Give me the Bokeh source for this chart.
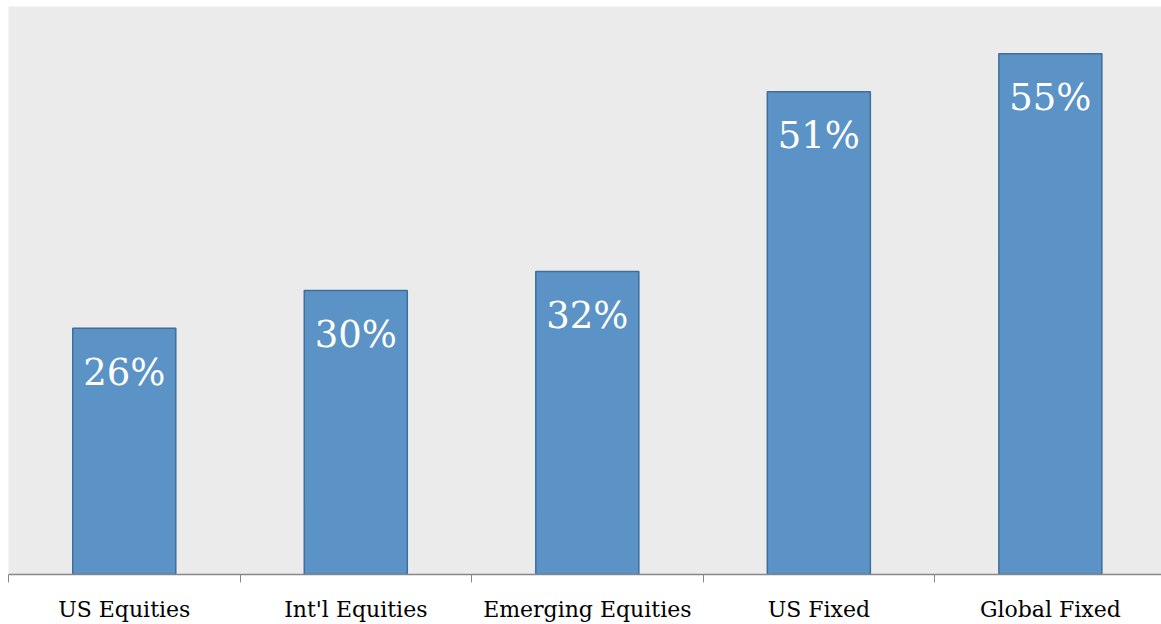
from bokeh.plotting import figure
from bokeh.models import Range1d, FixedTicker, ColumnDataSource
from bokeh.core.properties import value
from bokeh.embed import file_html
from bokeh.resources import INLINE

categories = ["US Equities", "Int'l Equities", "Emerging Equities", "US Fixed", "Global Fixed"]
values = [26, 30, 32, 51, 55]
value_labels = ["26%", "30%", "32%", "51%", "55%"]

xs = [i + 0.5 for i in range(len(categories))]
src = ColumnDataSource(dict(x=xs, top=values, label=value_labels))

p = figure(width=1161, height=624, output_backend="svg", toolbar_location=None,
           x_range=Range1d(0, 4.98), y_range=Range1d(0, 60),
           min_border_left=8, min_border_top=6, min_border_right=0, min_border_bottom=48)
p.background_fill_color = "#ebebeb"
p.border_fill_color = "white"
p.outline_line_color = None
p.xgrid.visible = False
p.ygrid.visible = False
p.yaxis.visible = False

p.vbar(x="x", top="top", bottom=0, width=0.445, source=src,
       fill_color="#5b93c7", line_color="#3e6e9c", line_width=1.5)

p.text(x="x", y="top", text="label", source=src, text_align="center",
       text_baseline="middle", y_offset=44, text_color="white",
       text_font=value("DejaVu Serif"), text_font_size="37px")

ax = p.xaxis[0]
ax.ticker = FixedTicker(ticks=xs, minor_ticks=[0, 1, 2, 3, 4, 5])
ax.major_label_overrides = {x: c for x, c in zip(xs, categories)}
ax.major_tick_out = 0
ax.major_tick_in = 0
ax.minor_tick_out = 8
ax.minor_tick_in = 0
ax.minor_tick_line_color = "#888888"
ax.axis_line_color = "#888888"
ax.axis_line_width = 1.5
ax.major_label_standoff = 14
ax.major_label_text_font = "DejaVu Serif"
ax.major_label_text_font_size = "22px"
ax.major_label_text_color = "black"

open("out.html", "w").write(file_html(p, INLINE))
